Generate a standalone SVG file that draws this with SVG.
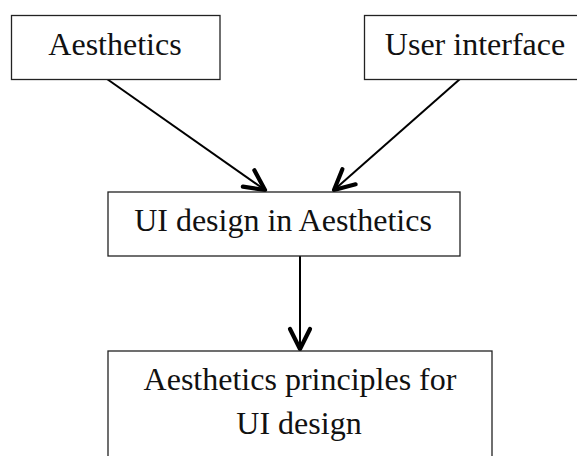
<svg xmlns="http://www.w3.org/2000/svg" width="577" height="456" viewBox="0 0 577 456">
<defs>
<style>
.box{fill:#fff;stroke:#222;stroke-width:1.3}
.lbl{font-family:"Liberation Serif","Times New Roman",serif;font-size:32px;fill:#111;text-anchor:middle}
.edge{stroke:#000;stroke-width:2;fill:none}
.head{stroke:#000;stroke-width:4.2;fill:none;stroke-linecap:round;stroke-linejoin:round}
</style>
<marker id="arr" markerUnits="userSpaceOnUse" markerWidth="34" markerHeight="34" viewBox="-27 -17 34 34" refX="0" refY="0" orient="auto">
<path class="head" d="M-20,-10 L0,0 L-20,10"/>
</marker>
</defs>
<g id="connectors">
<line class="edge" x1="107" y1="79" x2="265" y2="190" marker-end="url(#arr)"/>
<line class="edge" x1="460" y1="79" x2="334" y2="190" marker-end="url(#arr)"/>
<line class="edge" x1="300" y1="256" x2="300" y2="349" marker-end="url(#arr)"/>
</g>
<g id="aesthetics">
<rect class="box" x="11.5" y="15.5" width="208.5" height="64"/>
<text class="lbl" x="115" y="55">Aesthetics</text>
</g>
<g id="user-interface">
<rect class="box" x="364.5" y="15.5" width="222" height="64"/>
<text class="lbl" x="475" y="55">User interface</text>
</g>
<g id="ui-design">
<rect class="box" x="108" y="192" width="352" height="64"/>
<text class="lbl" x="283" y="231">UI design in Aesthetics</text>
</g>
<g id="principles">
<rect class="box" x="108" y="351" width="384" height="120"/>
<text class="lbl" x="300" y="390">Aesthetics principles for</text>
<text class="lbl" x="299" y="434">UI design</text>
</g>
</svg>
